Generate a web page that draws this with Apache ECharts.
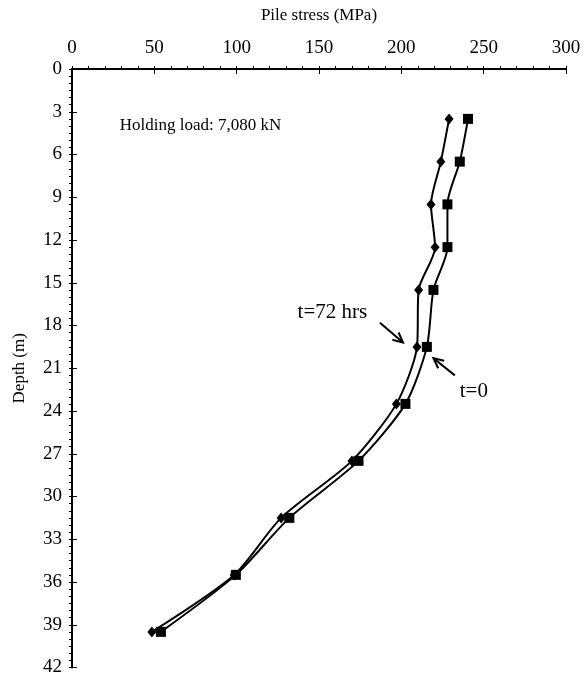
<!DOCTYPE html>
<html>
<head>
<meta charset="utf-8">
<script src="https://cdn.jsdelivr.net/npm/echarts@6/dist/echarts.min.js"></script>
<style>
  html, body { margin: 0; padding: 0; background: #fff; }
  #chart { width: 584px; height: 677px; }
</style>
</head>
<body>
<div id="chart"></div>
<script>
// Gauge depths along the pile (m)
const depths = [3.5, 6.5, 9.5, 12.5, 15.5, 19.5, 23.5, 27.5, 31.5, 35.5, 39.5];
// Pile stress at the start of the holding period (MPa)
const stressT0 = [240.5, 235.5, 228, 228, 219.5, 215.5, 202.5, 174, 132, 99.5, 54];
// Pile stress after 72 hours under the holding load (MPa)
const stressT72 = [229, 224, 218, 220.5, 210.5, 209.5, 197, 170, 127, 98.5, 48.5];

const stressTicks = [0, 50, 100, 150, 200, 250, 300];
const depthTicks = [0, 3, 6, 9, 12, 15, 18, 21, 24, 27, 30, 33, 36, 39, 42];

// Annotation anchors in data units: [stress, depth]
const holdingNotePos = [29, 4.0];
const t72LabelPos = [137, 17.1];
const t72Arrow = [[187, 17.8], [201, 19.2]];
const t0LabelPos = [235.5, 22.6];
const t0Arrow = [[232.5, 21.5], [219.5, 20.3]];

const serif = '"Liberation Serif", "DejaVu Serif", serif';

const chart = echarts.init(document.getElementById('chart'));

function pairs(xs) {
  return xs.map((x, i) => [x, depths[i]]);
}

const xRange = { min: stressTicks[0], max: stressTicks[stressTicks.length - 1], interval: 50 };
const yRange = { min: depthTicks[0], max: depthTicks[depthTicks.length - 1], interval: 3 };

// Main axes: line, labels and inward part of the major ticks
const xMain = Object.assign({
  type: 'value',
  position: 'top',
  name: 'Pile stress (MPa)',
  nameLocation: 'middle',
  nameGap: 45,
  nameTextStyle: { fontFamily: serif, fontSize: 17, color: '#000' },
  axisLine: { lineStyle: { color: '#000', width: 2 } },
  axisTick: { inside: true, length: 5, lineStyle: { color: '#000', width: 1 } },
  axisLabel: { fontFamily: serif, fontSize: 19, color: '#000', margin: 11 },
  splitLine: { show: false }
}, xRange);

const yMain = Object.assign({
  type: 'value',
  inverse: true,
  name: 'Depth (m)',
  nameLocation: 'middle',
  nameGap: 44,
  nameTextStyle: { fontFamily: serif, fontSize: 17, color: '#000' },
  axisLine: { lineStyle: { color: '#000', width: 2 } },
  axisTick: { inside: true, length: 5, lineStyle: { color: '#000', width: 1 } },
  axisLabel: { fontFamily: serif, fontSize: 19, color: '#000', margin: 10 },
  splitLine: { show: false }
}, yRange);

// Companion axes: outward part of the major ticks plus the minor ticks
const xOuter = Object.assign({
  type: 'value',
  position: 'top',
  axisLine: { show: false },
  axisTick: { inside: false, length: 3, lineStyle: { color: '#000', width: 1 } },
  minorTick: { show: true, splitNumber: 5, length: 3, lineStyle: { color: '#000' } },
  axisLabel: { show: false },
  splitLine: { show: false }
}, xRange);

const yOuter = Object.assign({
  type: 'value',
  inverse: true,
  position: 'left',
  axisLine: { show: false },
  axisTick: { inside: false, length: 3, lineStyle: { color: '#000', width: 1 } },
  minorTick: { show: true, splitNumber: 6, length: 3, lineStyle: { color: '#000' } },
  axisLabel: { show: false },
  splitLine: { show: false }
}, yRange);

chart.setOption({
  animation: false,
  grid: { left: 72, right: 18, top: 69, bottom: 6 },
  xAxis: [xMain, xOuter],
  yAxis: [yMain, yOuter],
  series: [
    {
      name: 't=0',
      type: 'line',
      data: pairs(stressT0),
      smooth: 0.25,
      symbol: 'rect',
      symbolSize: 10,
      itemStyle: { color: '#000' },
      lineStyle: { color: '#000', width: 2 }
    },
    {
      name: 't=72 hrs',
      type: 'line',
      data: pairs(stressT72),
      smooth: 0.25,
      symbol: 'diamond',
      symbolSize: [9, 11],
      itemStyle: { color: '#000' },
      lineStyle: { color: '#000', width: 2 }
    }
  ]
});

// Text notes and pointer arrows, placed through the chart's own coordinate system
function toPx(p) {
  return chart.convertToPixel({ xAxisIndex: 0, yAxisIndex: 0 }, p);
}

function arrow(fromData, toData) {
  const a = toPx(fromData);
  const b = toPx(toData);
  const ang = Math.atan2(b[1] - a[1], b[0] - a[0]);
  const headLen = 11, spread = 0.45;
  const h1 = [b[0] - headLen * Math.cos(ang - spread), b[1] - headLen * Math.sin(ang - spread)];
  const h2 = [b[0] - headLen * Math.cos(ang + spread), b[1] - headLen * Math.sin(ang + spread)];
  return [
    { type: 'line', shape: { x1: a[0], y1: a[1], x2: b[0], y2: b[1] }, style: { stroke: '#000', lineWidth: 2 } },
    { type: 'polyline', shape: { points: [h1, b, h2] }, style: { stroke: '#000', lineWidth: 2, fill: null } }
  ];
}

function note(text, posData, size) {
  const p = toPx(posData);
  return {
    type: 'text', x: p[0], y: p[1],
    style: { text: text, font: size + 'px ' + serif, fill: '#000', verticalAlign: 'middle' }
  };
}

chart.setOption({
  graphic: [
    note('Holding load: 7,080 kN', holdingNotePos, 17),
    note('t=72 hrs', t72LabelPos, 21),
    note('t=0', t0LabelPos, 21)
  ].concat(arrow(t72Arrow[0], t72Arrow[1]), arrow(t0Arrow[0], t0Arrow[1]))
});
</script>
</body>
</html>
